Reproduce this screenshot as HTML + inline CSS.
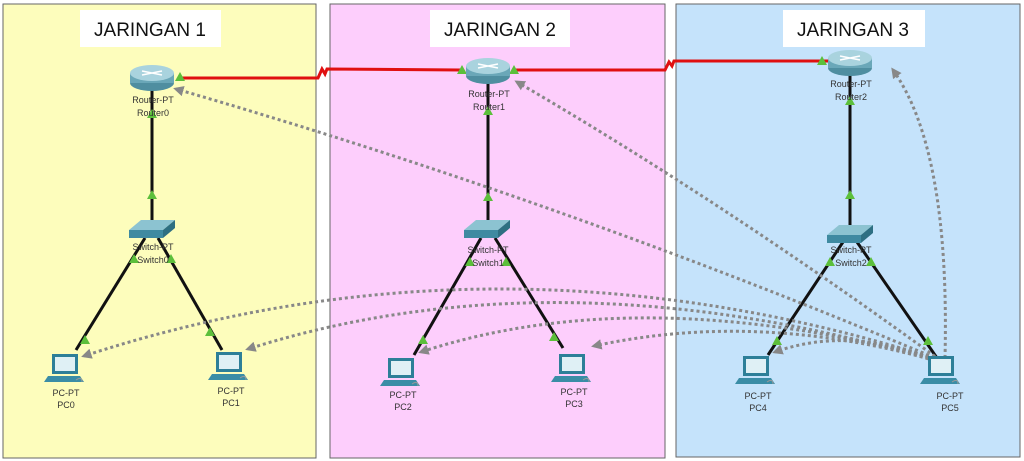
<!DOCTYPE html>
<html><head><meta charset="utf-8"><style>
html,body{margin:0;padding:0;background:#fff;width:1024px;height:461px;overflow:hidden}
svg{display:block}
.t{font-family:"Liberation Sans",sans-serif;font-size:9px;fill:#333;text-anchor:middle}
.h{font-family:"Liberation Sans",sans-serif;font-size:19px;fill:#111;text-anchor:middle}
.d{fill:none;stroke:#888;stroke-width:3;stroke-dasharray:3 3}
.k{stroke:#111;stroke-width:3}
</style></head><body>
<svg width="1024" height="461" viewBox="0 0 1024 461">
<defs>
<marker id="a" markerWidth="3.5" markerHeight="3.5" refX="2.5" refY="1.75" orient="auto" markerUnits="strokeWidth"><path d="M0,0L3.5,1.75L0,3.5z" fill="#888"/></marker>
<g id="rt"><ellipse cx="0" cy="6" rx="22" ry="8" fill="#4f8ea0"/><rect x="-22" y="-4" width="44" height="10" fill="#6aa7b8"/><ellipse cx="0" cy="-4" rx="22" ry="8" fill="#a9d3de"/><path d="M-10,-6L10,-2M-10,-2L10,-6" stroke="#fff" stroke-width="1.5"/></g>
<g id="sw"><path d="M-22,0L-10,-10L24,-10L12,0z" fill="#8cc3d1"/><path d="M-22,0L12,0L12,8L-22,8z" fill="#3f8aa1"/><path d="M12,0L24,-10L24,-2L12,8z" fill="#2e6f82"/></g>
<g id="pc"><rect x="-14" y="-16" width="26" height="20" fill="#2d7f98"/><rect x="-11" y="-13" width="20" height="14" fill="#dff0f5"/><path d="M-18,6L14,6L18,12L-22,12z" fill="#3a8da6"/><path d="M10,10q6,-4 6,2" stroke="#999" fill="none"/></g>
<g id="tr"><path d="M-5,4L0,-5L5,4z" fill="#5cbf3b"/></g>
</defs>
<rect x="3" y="4" width="313" height="454" fill="#fdfdbc" stroke="#666"/>
<rect x="330" y="4" width="335" height="454" fill="#fdcefc" stroke="#666"/>
<rect x="676" y="4" width="344" height="453" fill="#c5e3fb" stroke="#666"/>
<rect x="80" y="10" width="141" height="37" fill="#fff"/><text class="h" x="150" y="36">JARINGAN 1</text>
<rect x="430" y="10" width="140" height="37" fill="#fff"/><text class="h" x="500" y="36">JARINGAN 2</text>
<rect x="783" y="10" width="142" height="37" fill="#fff"/><text class="h" x="853" y="36">JARINGAN 3</text>
<path d="M178,78L318,78L322,69L325,74L327,69L460,70M512,70L665,70L669,62L672,66L674,61L832,61" fill="none" stroke="#e01010" stroke-width="3"/>
<line class="k" x1="152" y1="90" x2="152" y2="225"/><line class="k" x1="145" y1="238" x2="76" y2="350"/><line class="k" x1="158" y1="238" x2="222" y2="350"/>
<line class="k" x1="488" y1="82" x2="488" y2="225"/><line class="k" x1="481" y1="238" x2="414" y2="355"/><line class="k" x1="495" y1="238" x2="563" y2="348"/>
<line class="k" x1="850" y1="75" x2="850" y2="225"/><line class="k" x1="843" y1="242" x2="768" y2="355"/><line class="k" x1="857" y1="242" x2="937" y2="358"/>
<g marker-end="url(#a)">
<path class="d" d="M940,360Q560,200 176,89"/>
<path class="d" d="M940,360Q720,200 517,82"/>
<path class="d" d="M945,358Q950,150 893,70"/>
<path class="d" d="M940,360Q500,220 84,356"/>
<path class="d" d="M940,362Q560,250 248,349"/>
<path class="d" d="M940,360Q640,280 421,352"/>
<path class="d" d="M940,362Q760,310 594,346"/>
<path class="d" d="M940,362Q850,325 775,352"/>
</g>
<use href="#tr" x="180" y="77"/><use href="#tr" x="152" y="114"/><use href="#tr" x="152" y="195"/><use href="#tr" x="134" y="259"/><use href="#tr" x="171" y="259"/><use href="#tr" x="85" y="340"/><use href="#tr" x="210" y="332"/>
<use href="#tr" x="462" y="70"/><use href="#tr" x="514" y="70"/><use href="#tr" x="488" y="111"/><use href="#tr" x="488" y="197"/><use href="#tr" x="470" y="262"/><use href="#tr" x="506" y="262"/><use href="#tr" x="423" y="340"/><use href="#tr" x="554" y="337"/>
<use href="#tr" x="822" y="61"/><use href="#tr" x="850" y="101"/><use href="#tr" x="850" y="195"/><use href="#tr" x="830" y="262"/><use href="#tr" x="871" y="262"/><use href="#tr" x="777" y="341"/><use href="#tr" x="928" y="341"/>
<use href="#rt" x="152" y="77"/><text class="t" x="153" y="103">Router-PT</text><text class="t" x="153" y="116">Router0</text>
<use href="#rt" x="488" y="70"/><text class="t" x="489" y="97">Router-PT</text><text class="t" x="489" y="110">Router1</text>
<use href="#rt" x="850" y="62"/><text class="t" x="851" y="87">Router-PT</text><text class="t" x="851" y="100">Router2</text>
<use href="#sw" x="151" y="230"/><text class="t" x="153" y="250">Switch-PT</text><text class="t" x="153" y="263">Switch0</text>
<use href="#sw" x="486" y="230"/><text class="t" x="488" y="253">Switch-PT</text><text class="t" x="488" y="266">Switch1</text>
<use href="#sw" x="849" y="235"/><text class="t" x="851" y="253">Switch-PT</text><text class="t" x="851" y="266">Switch2</text>
<use href="#pc" x="66" y="370"/><text class="t" x="66" y="396">PC-PT</text><text class="t" x="66" y="408">PC0</text>
<use href="#pc" x="230" y="368"/><text class="t" x="231" y="394">PC-PT</text><text class="t" x="231" y="406">PC1</text>
<use href="#pc" x="402" y="374"/><text class="t" x="403" y="398">PC-PT</text><text class="t" x="403" y="410">PC2</text>
<use href="#pc" x="573" y="370"/><text class="t" x="574" y="395">PC-PT</text><text class="t" x="574" y="407">PC3</text>
<use href="#pc" x="757" y="372"/><text class="t" x="758" y="399">PC-PT</text><text class="t" x="758" y="411">PC4</text>
<use href="#pc" x="942" y="372"/><text class="t" x="950" y="399">PC-PT</text><text class="t" x="950" y="411">PC5</text>
</svg>
</body></html>
